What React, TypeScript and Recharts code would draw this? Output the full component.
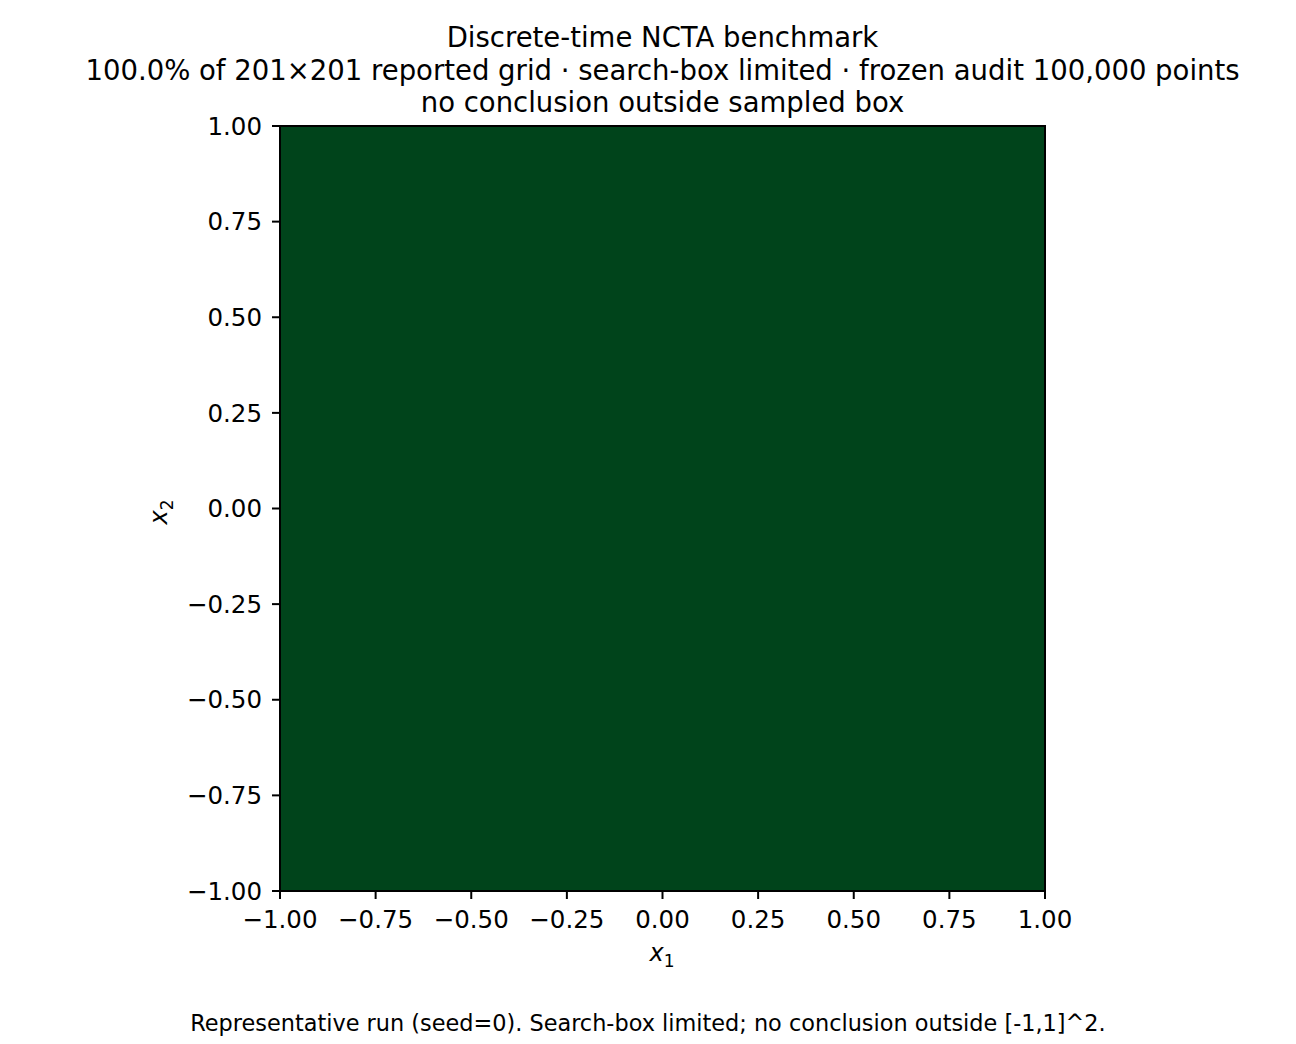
import React from 'react';
import { ComposedChart, XAxis, YAxis, Scatter, ReferenceArea } from 'recharts';

// Data
const xTicks = [-1, -0.75, -0.5, -0.25, 0, 0.25, 0.5, 0.75, 1];
const yTicks = [-1, -0.75, -0.5, -0.25, 0, 0.25, 0.5, 0.75, 1];
const boxX = [-1, 1];
const boxY = [-1, 1];
const safeFraction = [1.0];
const titleLines = [
  'Discrete-time NCTA benchmark',
  '100.0% of 201×201 reported grid · search-box limited · frozen audit 100,000 points',
  'no conclusion outside sampled box',
];
const footer = 'Representative run (seed=0). Search-box limited; no conclusion outside [-1,1]^2.';

const corners = [
  { x: boxX[0], y: boxY[0] },
  { x: boxX[1], y: boxY[1] },
];

const FONT = '"DejaVu Sans", sans-serif';
const fmt = (v: number) => v.toFixed(2).replace('-', '\u2212');

export default function App() {
  return (
    <div style={{ position: 'relative', width: 1296, height: 1044, margin: '-8px 0 0 -8px', background: '#fff', fontFamily: FONT }}>
      <ComposedChart
        width={1296}
        height={1044}
        data={corners}
        margin={{ top: 126, right: 251, bottom: 93, left: 200 }}
        style={{ position: 'absolute', left: 0, top: 0 }}
      >
        <XAxis
          type="number"
          dataKey="x"
          domain={[-1, 1]}
          ticks={xTicks}
          tickFormatter={fmt}
          allowDataOverflow
          height={60}
          tickSize={8}
          tickMargin={12}
          axisLine={{ stroke: '#000', strokeWidth: 2 }}
          tickLine={{ stroke: '#000', strokeWidth: 2 }}
          tick={{ fill: '#000', fontSize: 24.5, fontFamily: FONT }}
          interval={0}
        />
        <YAxis
          type="number"
          dataKey="y"
          domain={[-1, 1]}
          ticks={yTicks}
          tickFormatter={fmt}
          allowDataOverflow
          width={80}
          tickSize={8}
          tickMargin={10}
          axisLine={{ stroke: '#000', strokeWidth: 2 }}
          tickLine={{ stroke: '#000', strokeWidth: 2 }}
          tick={{ fill: '#000', fontSize: 24.5, fontFamily: FONT }}
          interval={0}
        />
        <ReferenceArea
          x1={boxX[0]}
          x2={boxX[1]}
          y1={boxY[0]}
          y2={boxY[1]}
          fill="#00441b"
          fillOpacity={safeFraction[0]}
          stroke="#000"
          strokeWidth={2}
          ifOverflow="visible"
        />
        <Scatter dataKey="y" fill="none" isAnimationActive={false} shape={() => null} />
      </ComposedChart>

      <div style={{ position: 'absolute', left: 0, width: 1325, top: 21, textAlign: 'center', fontSize: 27.5, lineHeight: '32.5px', color: '#000' }}>
        {titleLines.map((t, i) => (
          <div key={i} style={{ whiteSpace: 'nowrap' }}>{t}</div>
        ))}
      </div>

      <div style={{ position: 'absolute', left: 562, width: 200, top: 938, textAlign: 'center', fontSize: 24, lineHeight: '30px', color: '#000' }}>
        <i>x</i><sub style={{ fontSize: 17 }}>1</sub>
      </div>

      <div style={{ position: 'absolute', left: 63, width: 200, top: 493, textAlign: 'center', fontSize: 24, lineHeight: '30px', color: '#000', transform: 'rotate(-90deg)' }}>
        <i>x</i><sub style={{ fontSize: 17 }}>2</sub>
      </div>

      <div style={{ position: 'absolute', left: 0, width: 1296, top: 1009, textAlign: 'center', fontSize: 22.4, lineHeight: '28px', color: '#000', whiteSpace: 'nowrap' }}>
        {footer}
      </div>
    </div>
  );
}
